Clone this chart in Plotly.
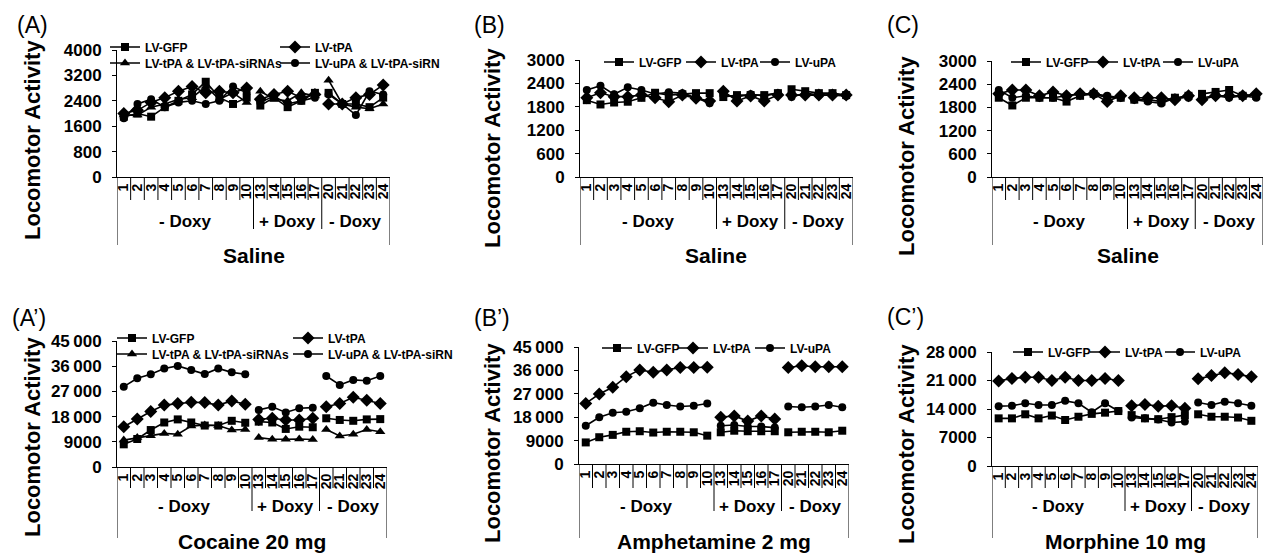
import plotly.graph_objects as go

# ---------------- data ----------------
days = [1, 2, 3, 4, 5, 6, 7, 8, 9, 10, 13, 14, 15, 16, 17, 20, 21, 22, 23, 24]
groups = ["- Doxy", "+ Doxy", "- Doxy"]
group_sizes = [10, 5, 5]

# (A) Saline
a_gfp = [1900, 2000, 1900, 2200, 2400, 2600, 3000, 2500, 2300, 2500, 2250, 2500, 2200, 2400, 2650, 2650, 2300, 2300, 2200, 2500]
a_tpa = [2000, 2100, 2350, 2500, 2700, 2850, 2650, 2700, 2650, 2800, 2450, 2600, 2700, 2500, 2600, 2300, 2300, 2500, 2600, 2900]
a_sirna = [1950, 1950, 2200, 2300, 2450, 2500, 2850, 2450, 2650, 2350, 2700, 2450, 2400, 2650, 2550, 3050, 2300, 2200, 2150, 2300]
a_upa = [1850, 2300, 2450, 2200, 2350, 2400, 2300, 2400, 2850, 2650, 2350, 2550, 2300, 2400, 2500, 2600, 2300, 1950, 2700, 2600]

# (B) Saline
b_gfp = [1970, 1860, 1910, 1930, 2030, 2160, 2100, 2120, 2150, 2150, 2050, 2100, 2100, 2100, 2150, 2250, 2200, 2150, 2150, 2100]
b_tpa = [2030, 2160, 2060, 2060, 2100, 2030, 1930, 2100, 2020, 1950, 2200, 1950, 2080, 1950, 2100, 2100, 2100, 2100, 2100, 2100]
b_upa = [2230, 2340, 2120, 2300, 2230, 2130, 2170, 2150, 2030, 1890, 2100, 2050, 2120, 2080, 2150, 2050, 2150, 2100, 2100, 2080]

# (C) Saline
c_gfp = [2050, 1850, 2050, 2050, 2050, 1950, 2100, 2150, 2050, 2050, 2000, 2000, 1950, 2050, 2100, 2150, 2200, 2250, 2100, 2100]
c_tpa = [2150, 2250, 2250, 2100, 2200, 2100, 2150, 2150, 1950, 2100, 2050, 2050, 2050, 2000, 2100, 2000, 2100, 2100, 2100, 2150]
c_upa = [2250, 2050, 2100, 2050, 2050, 2100, 2150, 2150, 2100, 2050, 2000, 1950, 1900, 2050, 2050, 2050, 2100, 2050, 2100, 2050]

# (A') Cocaine 20 mg
ap_gfp = [8100, 10000, 13200, 15900, 17000, 15900, 14800, 14800, 16500, 15800, 16200, 15900, 13600, 14400, 14200, 17400, 16800, 16500, 17000, 17100]
ap_tpa = [14400, 17100, 19800, 22100, 22700, 23100, 23000, 22100, 23600, 22400, 17000, 17400, 16800, 16800, 17400, 21500, 22700, 24900, 23800, 22700]
ap_sirna = [9600, 10500, 11200, 12000, 11700, 14600, 15000, 14800, 13200, 13400, 10500, 9900, 9900, 10000, 9800, 13400, 11100, 11700, 13400, 12600]
ap_upa = [28700, 31700, 33100, 35200, 36100, 34600, 33200, 35200, 33800, 33100, 20400, 21500, 19500, 21000, 21200, 32500, 29300, 31100, 30800, 32500]

# (B') Amphetamine 2 mg
bp_gfp = [8300, 10300, 11200, 12400, 12600, 12100, 12400, 12400, 12200, 10900, 12200, 12800, 12600, 12600, 12600, 12200, 12400, 12400, 12200, 12800]
bp_tpa = [23300, 26900, 29500, 33600, 36200, 35300, 36200, 37100, 37100, 37200, 18000, 18500, 16500, 18500, 17300, 37100, 37800, 37400, 37400, 37400]
bp_upa = [14700, 18000, 19700, 20100, 21400, 23600, 22700, 22100, 22400, 23300, 14700, 15000, 14400, 14400, 14000, 22100, 21800, 22100, 22700, 21800]

# (C') Morphine 10 mg
cp_gfp = [11700, 11700, 12700, 11700, 12400, 11300, 12100, 12800, 13100, 13500, 12500, 11700, 11500, 12000, 12500, 12700, 12100, 12100, 11900, 11100]
cp_tpa = [20900, 21500, 21800, 21800, 21000, 21800, 21000, 21000, 21500, 21000, 14800, 15100, 14700, 14800, 14200, 21400, 22200, 22900, 22500, 21900]
cp_upa = [14700, 14800, 15400, 15000, 15000, 16000, 15400, 13200, 15400, 13500, 11900, 11700, 11400, 10700, 10900, 15600, 15000, 15800, 15400, 14800]

y_ticks_a = [0, 800, 1600, 2400, 3200, 4000]
y_ticks_bc = [0, 600, 1200, 1800, 2400, 3000]
y_ticks_coc = [0, 9000, 18000, 27000, 36000, 45000]
y_ticks_mor = [0, 7000, 14000, 21000, 28000]

# ---------------- layout helpers ----------------
W, H = 1265, 553
FONT = "Arial, Liberation Sans, sans-serif"


def px(x):
    return x / W


def py(y):
    return 1 - y / H


def fmt(v):
    s = str(v)
    if v >= 10000:
        s = s[:-3] + "\u2009" + s[-3:]
    return s


def seg(vals):
    xs, ys = [], []
    start = 0
    for gi, n in enumerate(group_sizes):
        if gi:
            xs.append(None)
            ys.append(None)
        for k in range(start, start + n):
            xs.append(k)
            ys.append(vals[k])
        start += n
    return xs, ys


SYM = {"LV-GFP": ("square", 8), "LV-tPA": ("diamond", 10),
       "LV-tPA & LV-tPA-siRNAs": ("triangle-up", 9),
       "LV-uPA & LV-tPA-siRN": ("circle", 8), "LV-uPA": ("circle", 8)}

top = dict(box=200, sep=229, outer=245, doxy=221, title=255)
bot = dict(box=488, sep=511, outer=538, doxy=506, title=541)

panels = [
    dict(label="(A)", lab=(15, 25), x0=117, x1=390, ytop=50, y0=177, ymax=4000, ticks=y_ticks_a,
         title="Saline", ytitle=(32, 140), rows=top,
         series=[("LV-GFP", a_gfp, (125, 47)), ("LV-tPA", a_tpa, (295, 47)),
                 ("LV-tPA & LV-tPA-siRNAs", a_sirna, (125, 63)), ("LV-uPA & LV-tPA-siRN", a_upa, (295, 63))]),
    dict(label="(B)", lab=(472, 25), x0=580, x1=853, ytop=60, y0=177, ymax=3000, ticks=y_ticks_bc,
         title="Saline", ytitle=(492, 148), rows=top,
         series=[("LV-GFP", b_gfp, (619, 62)), ("LV-tPA", b_tpa, (701, 62)), ("LV-uPA", b_upa, (775, 62))]),
    dict(label="(C)", lab=(885, 25), x0=992, x1=1263, ytop=61, y0=177, ymax=3000, ticks=y_ticks_bc,
         title="Saline", ytitle=(906, 156), rows=top,
         series=[("LV-GFP", c_gfp, (1026, 62)), ("LV-tPA", c_tpa, (1103, 62)), ("LV-uPA", c_upa, (1178, 62))]),
    dict(label="(A\u2019)", lab=(10, 318), x0=117, x1=387, ytop=341, y0=467, ymax=45000, ticks=y_ticks_coc,
         title="Cocaine 20 mg", ytitle=(32, 437), rows=bot,
         series=[("LV-GFP", ap_gfp, (132, 338)), ("LV-tPA", ap_tpa, (308, 338)),
                 ("LV-tPA & LV-tPA-siRNAs", ap_sirna, (132, 354)), ("LV-uPA & LV-tPA-siRN", ap_upa, (308, 354))]),
    dict(label="(B\u2019)", lab=(472, 318), x0=579, x1=849, ytop=347, y0=464, ymax=45000, ticks=y_ticks_coc,
         title="Amphetamine 2 mg", ytitle=(492, 443), rows=bot,
         series=[("LV-GFP", bp_gfp, (617, 348)), ("LV-tPA", bp_tpa, (693, 348)), ("LV-uPA", bp_upa, (770, 348))]),
    dict(label="(C\u2019)", lab=(885, 317), x0=992, x1=1258, ytop=352, y0=466, ymax=28000, ticks=y_ticks_mor,
         title="Morphine 10 mg", ytitle=(906, 444), rows=bot,
         series=[("LV-GFP", cp_gfp, (1028, 352)), ("LV-tPA", cp_tpa, (1105, 352)), ("LV-uPA", cp_upa, (1180, 352))]),
]

fig = go.Figure()
layout = dict(width=W, height=H, margin=dict(l=0, r=0, t=0, b=0, autoexpand=False),
              paper_bgcolor="white", plot_bgcolor="white", showlegend=True,
              font=dict(family=FONT, color="black"))
shapes, annotations = [], []
leg_n = 0
ncat = len(days)

for pi, p in enumerate(panels):
    k = "" if pi == 0 else str(pi + 1)
    xa, ya = "x" + k, "y" + k
    layout["xaxis" + k] = dict(
        domain=[px(p["x0"]), px(p["x1"])], anchor=ya, range=[-0.5, ncat - 0.5],
        tickmode="array", tickvals=list(range(ncat)), ticktext=[str(d) for d in days],
        tickangle=-90, ticks="", showline=True, linecolor="black", linewidth=1,
        showgrid=False, zeroline=False, fixedrange=True,
        tickfont=dict(family=FONT, size=14, color="black", weight="bold"))
    layout["yaxis" + k] = dict(
        domain=[py(p["y0"]), py(p["ytop"])], anchor=xa, range=[0, p["ymax"]],
        tickmode="array", tickvals=p["ticks"], ticktext=[fmt(v) for v in p["ticks"]],
        ticks="outside", ticklen=4, tickcolor="black", showline=True, linecolor="black",
        linewidth=1, showgrid=False, zeroline=False, fixedrange=True, ticklabelstandoff=7,
        tickfont=dict(family=FONT, size=17, color="black", weight="bold"))

    for name, vals, (mx, my) in p["series"]:
        leg_n += 1
        lid = "legend" if leg_n == 1 else "legend%d" % leg_n
        sym, size = SYM[name]
        xs, ys = seg(vals)
        fig.add_trace(go.Scatter(
            x=xs, y=ys, xaxis=xa, yaxis=ya, name=name, mode="lines+markers",
            line=dict(color="black", width=1.6),
            marker=dict(symbol=sym, size=size, color="black"),
            legend=lid, connectgaps=False))
        layout[lid] = dict(x=px(mx - 20), y=py(my), xanchor="left", yanchor="middle",
                           bgcolor="rgba(0,0,0,0)", itemwidth=30, orientation="v",
                           font=dict(family=FONT, size=12, color="black", weight="bold"))

    rows = p["rows"]
    ax_y = p["y0"]
    bounds = [0]
    for n in group_sizes:
        bounds.append(bounds[-1] + n)
    for i in range(ncat + 1):
        if i in (0, ncat):
            yb = rows["outer"]
        elif i in bounds:
            yb = rows["sep"]
        else:
            yb = rows["box"]
        shapes.append(dict(type="line", xref=xa, yref="paper", x0=i - 0.5, x1=i - 0.5,
                           y0=py(ax_y), y1=py(yb), line=dict(color="black", width=1)))
    for gi, g in enumerate(groups):
        c = (bounds[gi] + bounds[gi + 1] - 1) / 2
        annotations.append(dict(text=g, xref=xa, yref="paper", x=c, y=py(rows["doxy"]),
                                showarrow=False, xanchor="center", yanchor="middle",
                                font=dict(family=FONT, size=17, color="black", weight="bold")))
    annotations.append(dict(text=p["title"], xref="paper", yref="paper",
                            x=px((p["x0"] + p["x1"]) / 2), y=py(rows["title"]),
                            showarrow=False, xanchor="center", yanchor="middle",
                            font=dict(family=FONT, size=21, color="black", weight="bold")))
    annotations.append(dict(text="Locomotor Activity", xref="paper", yref="paper",
                            x=px(p["ytitle"][0]), y=py(p["ytitle"][1]), textangle=-90,
                            showarrow=False, xanchor="center", yanchor="middle",
                            font=dict(family=FONT, size=22, color="black", weight="bold")))
    annotations.append(dict(text=p["label"], xref="paper", yref="paper",
                            x=px(p["lab"][0]), y=py(p["lab"][1]),
                            showarrow=False, xanchor="left", yanchor="middle",
                            font=dict(family=FONT, size=23, color="black")))

layout["shapes"] = shapes
layout["annotations"] = annotations
fig.update_layout(**layout)
fig.write_html("out.html", config={"displayModeBar": False},
               post_script="document.body.style.margin='0';document.body.style.overflow='hidden';")
